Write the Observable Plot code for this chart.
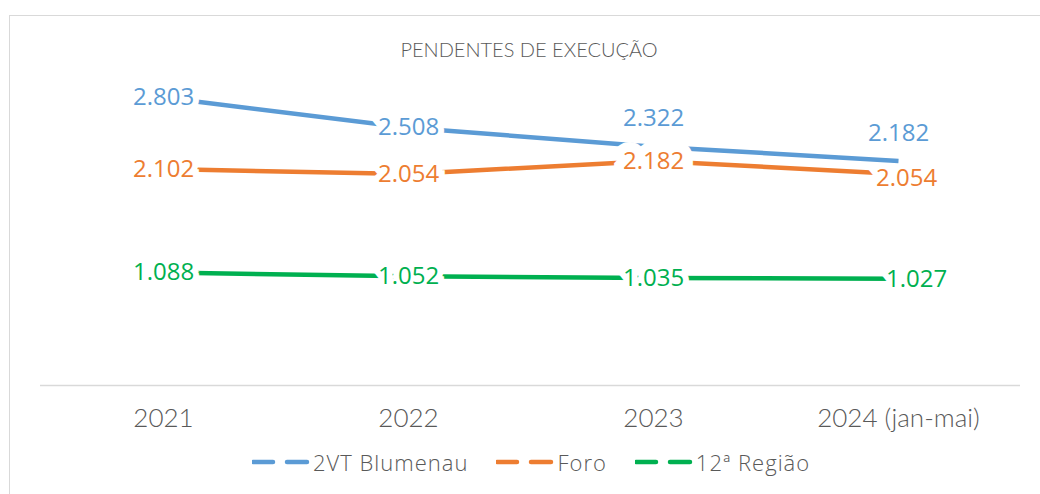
<!DOCTYPE html>
<html>
<head>
<meta charset="utf-8">
<script src="https://cdn.jsdelivr.net/npm/d3@7"></script>
<script src="https://cdn.jsdelivr.net/npm/@observablehq/plot@0.6"></script>
<style>
  html, body { margin: 0; padding: 0; background: #fff; }
  #wrap { position: relative; width: 1040px; height: 494px; overflow: hidden; font-family: Lato, "Open Sans", sans-serif; }
  #border { position: absolute; left: 9px; top: 15px; width: 1100px; height: 600px; border-left: 1.5px solid #d9d9d9; border-top: 1.5px solid #d9d9d9; }
  #title { position: absolute; top: 39px; left: 529px; transform: translateX(-50%); font-size: 20px; line-height: 20px; color: #595959; white-space: nowrap; font-weight: 300; }
  #chart { position: absolute; left: 0; top: 0; }
  #legend { position: absolute; top: 447px; left: 252px; display: flex; align-items: center; font-family: "Open Sans", sans-serif; font-size: 22px; letter-spacing: 1px; color: #595959; white-space: nowrap; font-weight: 300; }
  .item { display: flex; align-items: center; margin-right: 28px; }
  .item svg { margin-right: 3px; }
</style>
</head>
<body>
<div id="wrap">
  <div id="border"></div>
  <div id="chart"></div>
  <div id="title"></div>
  <div id="legend"></div>
</div>
<script>
const title = "PENDENTES DE EXECUÇÃO";
const years = ["2021", "2022", "2023", "2024 (jan-mai)"];
const seriesNames = ["2VT Blumenau", "Foro", "12ª Região"];
const blumenau = [2803, 2508, 2322, 2182];
const foro = [2102, 2054, 2182, 2054];
const regiao = [1088, 1052, 1035, 1027];
const colors = ["#5B9BD5", "#ED7D31", "#00B050"];

const seriesValues = [blumenau, foro, regiao];
const data = [];
seriesNames.forEach((s, i) => years.forEach((yr, j) => data.push({series: s, year: yr, value: seriesValues[i][j]})));

const fmt = d3.formatLocale({decimal: ",", thousands: ".", grouping: [3], currency: ["R$", ""]}).format(",d");

document.getElementById("title").textContent = title;

// label placement groups (style only)
const isAbove = d => d.series === seriesNames[0] && (d.year === years[2] || d.year === years[3]);
const isOrangeLast = d => d.series === seriesNames[1] && d.year === years[3];
const isOrangeThird = d => d.series === seriesNames[1] && d.year === years[2];
const isGreenLast = d => d.series === seriesNames[2] && d.year === years[3];
const isCenter = d => !isAbove(d) && !isOrangeLast(d) && !isGreenLast(d) && !isOrangeThird(d);

const labelOpts = (extra) => Object.assign({
  x: "year", y: "value", text: d => fmt(d.value), fill: "series",
  stroke: "white", strokeWidth: 12, strokeLinejoin: "miter", paintOrder: "stroke",
  fontSize: 24, fontFamily: "'Open Sans', sans-serif", textAnchor: "middle", lineAnchor: "middle"
}, extra);

const chart = Plot.plot({
  width: 1040,
  height: 440,
  marginTop: 77,
  marginBottom: 57,
  marginLeft: 40,
  marginRight: 20,
  x: {type: "point", domain: years, padding: 0.5, label: null},
  y: {domain: [0, 3000], axis: null},
  color: {domain: seriesNames, range: colors},
  style: {fontFamily: "Lato, sans-serif", background: "transparent"},
  marks: [
    Plot.ruleY([0], {stroke: "#d9d9d9", strokeWidth: 1.5, dy: 2}),
    Plot.axisX({tickSize: 0, tickPadding: 25, fontSize: 26, fontWeight: 300, fill: "#595959", fontFamily: "Lato, sans-serif", label: null}),
    Plot.line(data, {x: "year", y: "value", z: "series", stroke: "series", strokeWidth: 4.5, strokeLinecap: "butt", strokeLinejoin: "round"}),
    Plot.text(data, labelOpts({filter: isCenter})),
    Plot.text(data, labelOpts({filter: isOrangeThird, strokeWidth: 20})),
    Plot.text(data, labelOpts({filter: isAbove, dy: -28})),
    Plot.text(data, labelOpts({filter: isOrangeLast, dx: 8, dy: 4})),
    Plot.text(data, labelOpts({filter: isGreenLast, dx: 18, dy: 1}))
  ]
});
document.getElementById("chart").appendChild(chart);

const legend = document.getElementById("legend");
seriesNames.forEach((s, i) => {
  const item = document.createElement("div");
  item.className = "item";
  item.innerHTML = `<svg width="58" height="10"><line x1="1" y1="5" x2="57" y2="5" stroke="${colors[i]}" stroke-width="4.5" stroke-dasharray="20 14" stroke-linecap="round"/></svg><span></span>`;
  item.querySelector("span").textContent = s;
  legend.appendChild(item);
});
</script>
</body>
</html>
